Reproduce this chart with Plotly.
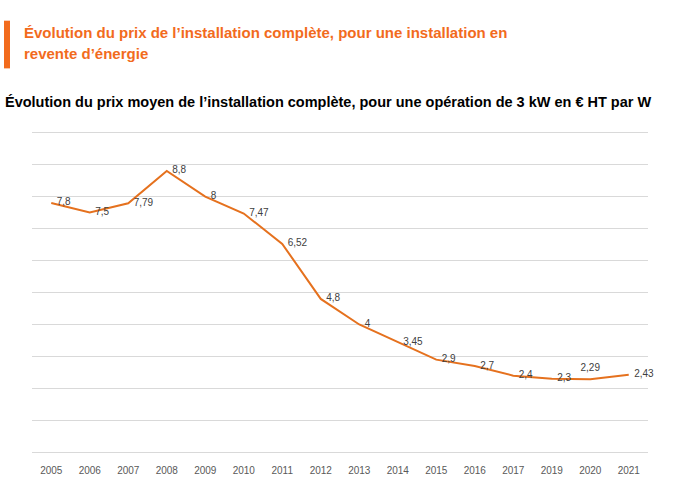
import plotly.graph_objects as go

years = ["2005", "2006", "2007", "2008", "2009", "2010", "2011", "2012",
         "2013", "2014", "2015", "2016", "2017", "2019", "2020", "2021"]
prices = [7.8, 7.5, 7.79, 8.8, 8, 7.47, 6.52, 4.8, 4, 3.45, 2.9, 2.7, 2.4, 2.3, 2.29, 2.43]
label_pos = ["middle right"] * 16
label_pos[14] = "top center"

labels = [("%g" % v).replace(".", ",") for v in prices]

W, H = 678, 488
L, R, T, B = 32, 30, 131, 32
pw, ph = W - L - R, H - T - B


def px(x):
    return (x - L) / pw


def py(y):
    return (H - B - y) / ph


fig = go.Figure()
fig.add_trace(go.Scatter(
    x=years, y=prices, mode="lines+markers+text",
    line=dict(color="#E5711E", width=2),
    marker=dict(size=7, color="rgba(0,0,0,0)"),
    text=labels, textposition=label_pos,
    textfont=dict(family="Liberation Sans, Arial", size=10, color="#404040"),
    cliponaxis=False, hoverinfo="skip",
))

fig.update_layout(
    width=W, height=H,
    margin=dict(l=L, r=R, t=T, b=B),
    paper_bgcolor="white", plot_bgcolor="white",
    showlegend=False,
    xaxis=dict(type="category", range=[-0.5, len(years) - 0.5], showgrid=False,
               showline=False, zeroline=False, ticks="", ticklabelstandoff=9,
               tickfont=dict(family="Liberation Sans, Arial", size=10, color="#595959")),
    yaxis=dict(range=[-0.05, 10.05], dtick=1, showticklabels=False, showgrid=True,
               gridcolor="#D9D9D9", gridwidth=1, zeroline=True, zerolinecolor="#D9D9D9",
               zerolinewidth=1, showline=False),
    shapes=[dict(type="rect", xref="paper", yref="paper",
                 x0=px(4), x1=px(10), y0=py(68), y1=py(20),
                 fillcolor="#F26B1D", line=dict(width=0))],
    annotations=[
        dict(xref="paper", yref="paper", x=px(22), y=py(32), xanchor="left", yanchor="middle",
             showarrow=False,
             text="<b>Évolution du prix de l’installation complète, pour une installation en</b>",
             font=dict(family="Liberation Sans, Arial", size=15, color="#F26B1D")),
        dict(xref="paper", yref="paper", x=px(22), y=py(53), xanchor="left", yanchor="middle",
             showarrow=False,
             text="<b>revente d’énergie</b>",
             font=dict(family="Liberation Sans, Arial", size=15, color="#F26B1D")),
        dict(xref="paper", yref="paper", x=px(3), y=py(102), xanchor="left", yanchor="middle",
             showarrow=False,
             text="<b>Évolution du prix moyen de l’installation complète, pour une opération de 3 kW en € HT par W</b>",
             font=dict(family="Liberation Sans, Arial", size=14.5, color="#000000")),
    ],
)

fig.write_html("out.html", config={"displayModeBar": False},
               post_script="document.body.style.margin='0';")
